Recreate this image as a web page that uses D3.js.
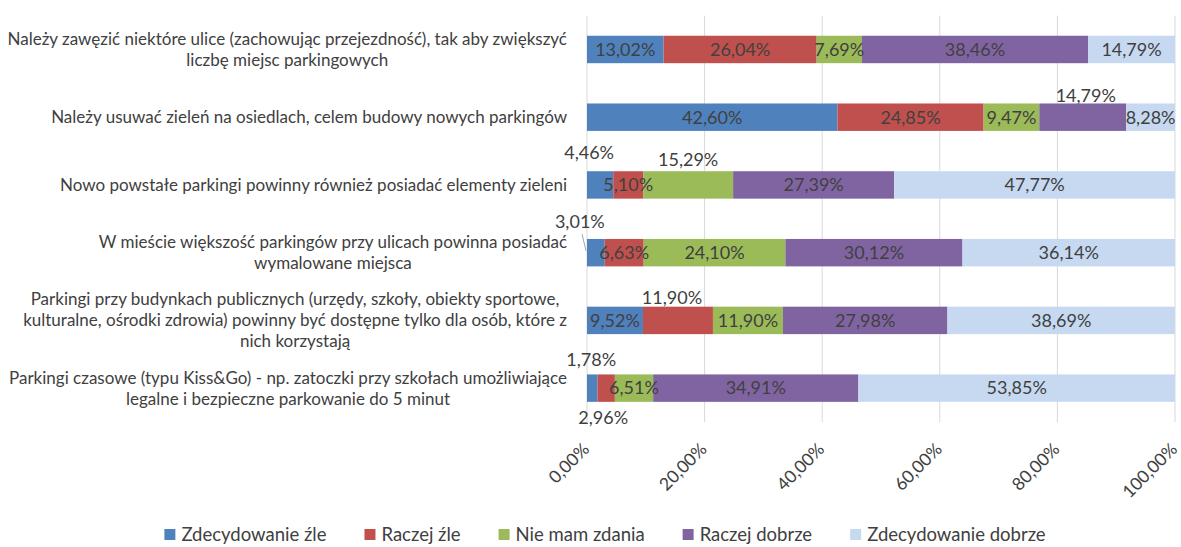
<!DOCTYPE html>
<html>
<head>
<meta charset="utf-8">
<script src="https://cdn.jsdelivr.net/npm/d3@7"></script>
<style>
  html, body { margin: 0; padding: 0; background: #ffffff; }
  svg { display: block; }
  text { font-family: Lato, "Open Sans", sans-serif; fill: #404040; }
</style>
</head>
<body>
<div id="chart"></div>
<script>
// ---- data ----
const categories = [
  ["Należy zawęzić niektóre ulice (zachowując przejezdność), tak aby zwiększyć", "liczbę miejsc parkingowych"],
  ["Należy usuwać zieleń na osiedlach, celem budowy nowych parkingów"],
  ["Nowo powstałe parkingi powinny również posiadać elementy zieleni"],
  ["W mieście większość parkingów przy ulicach powinna posiadać", "wymalowane miejsca"],
  ["Parkingi przy budynkach publicznych (urzędy, szkoły, obiekty sportowe,", "kulturalne, ośrodki zdrowia) powinny być dostępne tylko dla osób, które z", "nich korzystają"],
  ["Parkingi czasowe (typu Kiss&Go) - np. zatoczki przy szkołach umożliwiające", "legalne i bezpieczne parkowanie do 5 minut"]
];
const seriesNames = ["Zdecydowanie źle", "Raczej źle", "Nie mam zdania", "Raczej dobrze", "Zdecydowanie dobrze"];
const zdecydowanieZle     = [13.02, 42.60, 4.46, 3.01, 9.52, 1.78];
const raczejZle           = [26.04, 24.85, 5.10, 6.63, 11.90, 2.96];
const nieMamZdania        = [7.69, 9.47, 15.29, 24.10, 11.90, 6.51];
const raczejDobrze        = [38.46, 14.79, 27.39, 30.12, 27.98, 34.91];
const zdecydowanieDobrze  = [14.79, 8.28, 47.77, 36.14, 38.69, 53.85];
const tickValues = [0, 20, 40, 60, 80, 100];

// ---- styles / layout ----
const colors = ["#4F81BD", "#C0504D", "#9BBB59", "#8064A2", "#C6D9F1"];
// manually moved data labels: [categoryIndex, seriesIndex, dx, dy]
const labelMoves = [
  [1, 3, 3, -22],
  [2, 0, -11, -32],
  [2, 2, 0, -25],
  [3, 0, -16, -31],
  [4, 1, -6, -23],
  [5, 0, -1, -28],
  [5, 1, -3, 30]
];

const W = 1181, H = 547;
const plot = { left: 587, right: 1175, top: 15.6, bottom: 422 };

const rows = categories.map((c, i) => ({
  idx: i,
  [seriesNames[0]]: zdecydowanieZle[i],
  [seriesNames[1]]: raczejZle[i],
  [seriesNames[2]]: nieMamZdania[i],
  [seriesNames[3]]: raczejDobrze[i],
  [seriesNames[4]]: zdecydowanieDobrze[i]
}));

const svg = d3.select("#chart").append("svg").attr("width", W).attr("height", H);

const x = d3.scaleLinear().domain([0, 100]).range([plot.left, plot.right]);
const y = d3.scaleBand().domain(d3.range(categories.length)).range([plot.top, plot.bottom]).paddingInner(0.595).paddingOuter(0.2975);

// gridlines
svg.append("g").selectAll("line").data(tickValues).join("line")
  .attr("x1", d => x(d)).attr("x2", d => x(d))
  .attr("y1", plot.top).attr("y2", plot.bottom)
  .attr("stroke", "#D9D9D9").attr("stroke-width", 1);

// stacked bars
const stack = d3.stack().keys(seriesNames)(rows);
const layers = svg.append("g").selectAll("g").data(stack).join("g")
  .attr("fill", (d, i) => colors[i]);
layers.selectAll("rect").data(d => d).join("rect")
  .attr("x", d => x(d[0]))
  .attr("width", d => x(d[1]) - x(d[0]))
  .attr("y", d => y(d.data.idx))
  .attr("height", y.bandwidth());

// data labels
const fmt = v => v.toFixed(2).replace(".", ",") + "%";
const labelG = svg.append("g");
stack.forEach((layer, si) => {
  layer.forEach(d => {
    const ci = d.data.idx;
    const mv = labelMoves.find(m => m[0] === ci && m[1] === si);
    const cx = (x(d[0]) + x(d[1])) / 2 + (mv ? mv[2] : 0);
    const cy = y(ci) + y.bandwidth() / 2 + (mv ? mv[3] : 0);
    labelG.append("text")
      .attr("x", cx).attr("y", cy)
      .attr("text-anchor", "middle").attr("dy", "0.35em")
      .attr("font-size", 18)
      .text(fmt(d.data[seriesNames[si]]));
  });
});

// leader line for 3,01%
{
  const ci = 3;
  const bx = x(0);
  const by = y(ci);
  svg.append("line")
    .attr("x1", bx - 5).attr("y1", by - 5)
    .attr("x2", bx - 1).attr("y2", by + 12)
    .attr("stroke", "#A6A6A6").attr("stroke-width", 1);
}

// category labels
const catG = svg.append("g");
categories.forEach((lines, i) => {
  const cy = y(i) + y.bandwidth() / 2;
  const g = catG.append("g");
  const lh = 21;
  const texts = lines.map((ln, k) => g.append("text")
    .attr("y", cy + (k - (lines.length - 1) / 2) * lh)
    .attr("dy", "0.35em")
    .attr("font-size", 17)
    .attr("text-anchor", "middle")
    .text(ln));
  const maxW = d3.max(texts, t => t.node().getComputedTextLength());
  const center = plot.left - 20 - maxW / 2;
  texts.forEach(t => t.attr("x", center));
});

// x axis tick labels (rotated)
const axisG = svg.append("g");
tickValues.forEach(v => {
  axisG.append("text")
    .attr("transform", `translate(${x(v) - 1},${446}) rotate(-45)`)
    .attr("text-anchor", "end")
    .attr("dy", "0.35em")
    .attr("font-size", 17.5)
    .text(v.toFixed(2).replace(".", ",") + "%");
});

// legend
const legend = svg.append("g");
let lx = 0;
seriesNames.forEach((n, i) => {
  const g = legend.append("g");
  g.append("rect").attr("x", 0).attr("y", -6).attr("width", 11).attr("height", 11).attr("fill", colors[i]);
  const t = g.append("text").attr("x", 17).attr("y", 0).attr("dy", "0.35em").attr("font-size", 18.5).text(n);
  const w = 17 + t.node().getComputedTextLength();
  g.attr("transform", `translate(${lx},0)`);
  lx += w + 38;
});
const totalW = lx - 38;
legend.attr("transform", `translate(${605 - totalW / 2},535)`);
</script>
</body>
</html>
